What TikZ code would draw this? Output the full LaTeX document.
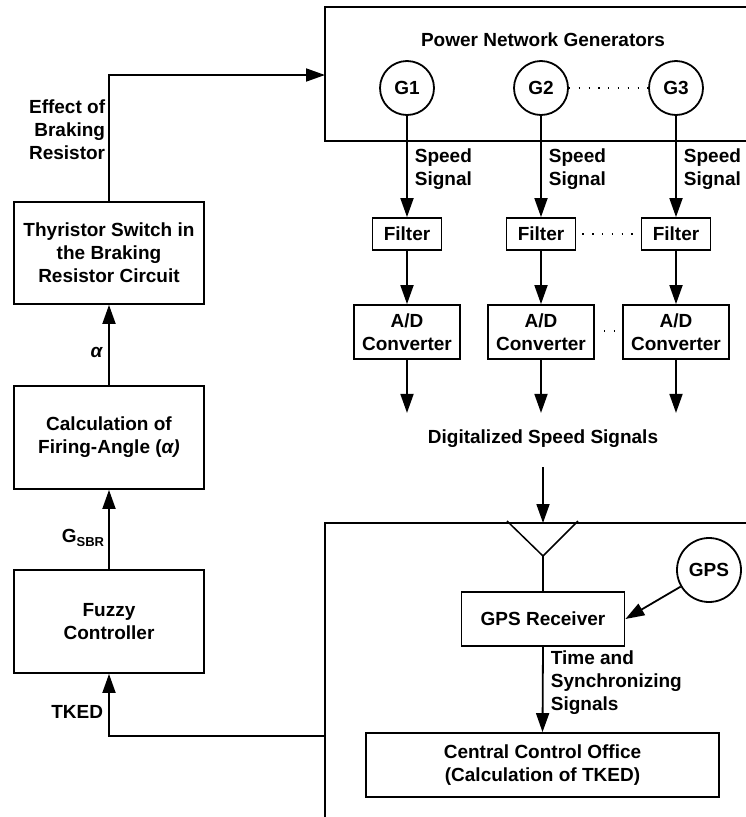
\documentclass[tikz,border=0pt]{standalone}
\usepackage{fontspec}
\setmainfont{Liberation Sans}
\usetikzlibrary{arrows.meta}
\begin{document}
\begin{tikzpicture}[x=1pt,y=-1pt,line width=1.8pt,
  font=\fontsize{19}{23}\selectfont\bfseries,
  box/.style={draw,inner sep=0pt,align=center},
  gen/.style={draw,circle,minimum size=54pt,inner sep=0pt},
  arr/.style={-{Triangle[length=19pt,width=13pt]}},
  lbl/.style={inner sep=0pt},
  dotline/.style={line width=1.3pt,dash pattern=on 1.3pt off 8.5pt}]
\useasboundingbox (0,0) rectangle (746,817);

% left column
\node[box,minimum width=190pt,minimum height=102pt] (thy) at (109,253) {Thyristor Switch in\\the Braking\\Resistor Circuit};
\node[box,minimum width=190pt,minimum height=103pt] (calc) at (109,437.5) {Calculation of\\Firing-Angle (\textit{α)}};
\node[box,minimum width=190pt,minimum height=103pt] (fuz) at (109,621.5) {Fuzzy\\Controller};

% power network box (open to the right)
\coordinate (pwin) at (325,75);
\draw (746,7) -- (325,7) -- (325,141) -- (746,141);
\node[lbl] (pwt) at (543,40) {Power Network Generators};

\node[gen] (g1) at (407,88) {G1};
\node[gen] (g2) at (541,88) {G2};
\node[gen] (g3) at (676,88) {G3};
\draw[dotline] (g2.east) -- (g3.west);

\node[box,minimum width=69pt,minimum height=32pt] (f1) at (407,234) {Filter};
\node[box,minimum width=69pt,minimum height=32pt] (f2) at (541,234) {Filter};
\node[box,minimum width=69pt,minimum height=32pt] (f3) at (676,234) {Filter};
\draw[dotline] ([xshift=6pt]f2.east) -- ([xshift=-4pt]f3.west);

\node[box,minimum width=106pt,minimum height=54pt] (a1) at (407,332) {A/D\\Converter};
\node[box,minimum width=106pt,minimum height=54pt] (a2) at (541,332) {A/D\\Converter};
\node[box,minimum width=106pt,minimum height=54pt] (a3) at (676,332) {A/D\\Converter};
\draw[dotline] (604,331) -- (618,331);

\foreach \i in {1,2,3}{
  \draw[arr] (g\i.south) -- (f\i.north);
  \draw[arr] (f\i.south) -- (a\i.north);
  \coordinate (d\i) at ([yshift=-53pt]a\i.south);
  \draw[arr] (a\i.south) -- (d\i);
}
\node[lbl,anchor=west,align=left] (s1) at (414,169.5) {Speed\\Signal};
\node[lbl,anchor=west,align=left] (s2) at (548,169.5) {Speed\\Signal};
\node[lbl,anchor=west,align=left] (s3) at (683,169.5) {Speed\\Signal};

\node[lbl] (dig) at (543,439) {Digitalized Speed Signals};

% bottom box (open to the right and below)
\draw (746,523) -- (325,523) -- (325,817);
\coordinate (antTop) at (543,467);
\coordinate (antIn) at (543,523);
\draw[arr] (antTop) -- (antIn);
\coordinate (antL) at (507,521);
\coordinate (antR) at (578,521);
\coordinate (antV) at (543,556);
\draw[line width=1.5pt] (antL) -- (antV) -- (antR);

\node[box,minimum width=163pt,minimum height=54pt] (gpsr) at (543,619) {GPS Receiver};
\node[draw,circle,minimum size=64pt,inner sep=0pt] (gps) at (709,570) {GPS};
\draw (antV) -- (gpsr.north);
\draw[arr] (gps) -- (gpsr.east);

\node[box,minimum width=353pt,minimum height=64pt] (cco) at (542.5,765) {Central Control Office\\(Calculation of TKED)};
\draw[arr] (gpsr.south) -- (cco.north);
\node[lbl,anchor=west,align=left] (tsl) at (550,683) {Time and\\Synchronizing\\Signals};

% left column connections
\draw[arr] (thy.north) |- (pwin);
\node[lbl,anchor=east,align=right] (eff) at (106,130) {Effect of\\Braking\\Resistor};
\draw[arr] (calc.north) -- (thy.south);
\node[lbl,anchor=east] (al) at (104,352) {\textit{α}};
\draw[arr] (fuz.north) -- (calc.south);
\node[lbl,anchor=east] (gs) at (105,538) {G\raisebox{-0.35ex}{\fontsize{13}{13}\selectfont SBR}};
\coordinate (tk) at (325,736);
\draw[arr] (tk) -| (fuz.south);
\node[lbl,anchor=east] (tked) at (104,712) {TKED};
\end{tikzpicture}
\end{document}
